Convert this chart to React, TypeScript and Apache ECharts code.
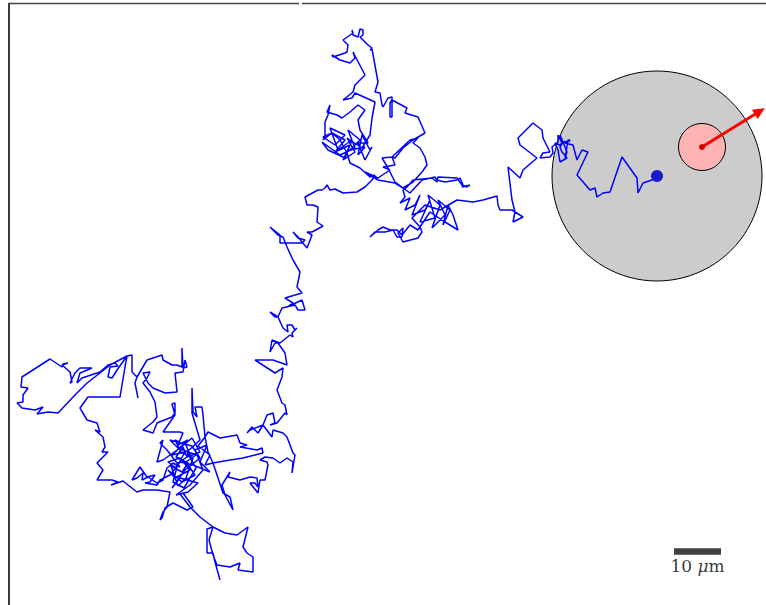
import React, { useEffect, useRef } from "react";
import * as echarts from "echarts";

// Trajectory (plot units = pixels of the original frame, y downward)
const segBottom: number[][] = [
  [220,580],[215,562],[213,553],[207,553],[207,529],[213,527],[225,533],[237,535],[248,527],[243,547],[247,553],[253,557],[253,572],[238,570],[240,563],[230,567],[217,565],[213,555],[209,540],[213,527],[200,517],[190,507],[180,494]
];
const segLowerLeft: number[][] = [
  [183,493],[193,507],[187,510],[173,503],[165,508],[162,518],[160,520],[163,512],[167,507],[170,492],[157,490],[143,490],[137,492],[128,485],[123,481],[111,485],[118,482],[112,480],[97,480],[103,470],[97,463],[100,460],[108,452],[102,452],[105,447],[103,437],[95,430],[100,432],[97,423],[87,420],[80,408],[88,397],[120,397],[125,367],[127,356]
];
const segLeftLoops: number[][] = [
  [110,365],[100,373],[87,383],[75,395],[58,413],[48,412],[37,414],[43,407],[35,410],[22,408],[17,403],[23,402],[23,395],[28,388],[21,387],[22,377],[50,359],[62,367],[63,364],[68,363],[62,365],[70,372],[72,382],[70,383],[75,373],[80,368],[92,368],[80,373],[77,383],[82,378],[100,372],[108,365],[115,363],[118,366],[110,367],[108,377],[112,378],[117,370],[127,356],[132,355],[132,372],[137,377],[135,383],[138,398],[135,383],[137,377],[147,360],[162,355],[163,360],[172,365],[177,365],[182,367],[182,348],[183,368],[187,367],[185,360],[183,372],[175,373],[177,392],[165,393],[153,388],[148,383],[143,373],[150,372],[147,378],[143,383],[150,392],[155,402],[157,417],[153,422],[143,430],[153,433],[157,423],[172,417],[175,413],[175,403],[172,404],[175,415],[163,432],[173,432],[180,432],[183,433]
];
const segCluster: number[][] = [
  [178,445],[188,440],[172,455],[185,452],[176,468],[168,462],[180,458],[190,470],[175,478],[168,470],[182,482],[195,475],[186,462],[196,455],[178,448],[170,440],[192,446],[200,458],[185,470],[172,488],[180,478],[198,483],[188,492],[176,495],[190,485],[203,470],[195,450],[207,445],[200,462],[210,472],[193,465],[180,462],[170,475],[160,480],[157,485],[145,483],[150,482],[155,475],[147,477],[140,467],[132,480],[137,478],[143,473],[142,480],[148,477],[157,483],[163,480],[167,468],[173,463],[180,467],[167,450],[160,443],[163,440],[157,462],[163,460],[180,448],[192,438],[200,452],[187,457],[183,447],[176,457],[188,463],[182,472],[171,466],[178,486],[186,478],[193,458],[181,452],[175,440],[186,445],[190,455],[178,463],[173,482],[184,488],[196,468],[187,452],[200,440],[192,413],[192,388],[193,412],[197,417],[195,407],[202,407],[203,415],[205,437],[198,446],[210,455],[205,465],[213,463],[208,452],[205,437]
];
const segRightLow: number[][] = [
  [208,432],[220,438],[237,435],[240,443],[247,445],[240,447],[257,450],[262,448],[263,453],[243,458],[230,460],[213,463],[223,493],[230,497],[233,510],[225,495],[222,485],[230,472],[228,477],[240,480],[250,477],[257,478],[258,487],[255,483],[250,483],[258,493],[260,480],[265,480],[268,465],[267,462],[260,460],[265,457],[273,458],[280,463],[287,458],[293,462],[292,473],[295,455],[293,453],[287,437],[283,433],[273,430],[272,437],[263,425],[258,433],[252,427],[247,433],[250,430],[263,425],[267,415],[273,413],[275,423],[270,425],[277,423],[285,413],[287,415],[285,405],[282,403]
];
const segColumn: number[][] = [
  [277,390],[282,377],[283,368],[275,373],[255,360],[273,360],[287,365],[285,353],[278,343],[275,343],[270,352],[272,340],[280,343],[290,335],[293,337],[292,333],[297,328],[295,330],[292,325],[287,325],[288,332],[283,328],[278,317],[275,317],[270,312],[278,317],[282,308],[295,305],[298,310],[305,310],[302,300],[287,307],[293,303],[285,298],[302,293],[297,287],[300,272],[293,260],[287,247],[283,237],[278,235],[270,227],[280,235],[280,243],[302,243],[305,240],[298,238],[293,232],[298,237],[302,242],[307,248],[312,235],[307,232],[312,232],[323,226],[317,222],[318,207],[313,205],[307,205],[305,197]
];
const segUpper: number[][] = [
  [318,190],[322,190],[325,188],[327,185],[330,190],[335,189],[343,193],[357,192],[365,187],[372,180],[375,175],[370,177],[360,168],[350,163],[347,153],[340,140],[332,133],[323,137],[335,145],[345,135],[330,128],[338,150],[352,140],[345,158],[328,150],[322,142],[340,155],[355,148],[348,130],[360,140],[350,150],[365,147],[358,155],[362,135],[370,150],[372,147],[365,160],[358,143],[368,143],[360,130],[358,120],[360,117],[365,110],[358,105],[350,112],[342,118],[337,115],[327,112],[330,105],[328,115],[325,122],[325,137],[323,140],[332,133],[345,140],[335,152],[350,145],[343,160],[355,152],[347,138],[362,148],[370,135],[372,118],[375,102],[355,93],[352,98],[343,100],[353,92],[355,85],[365,75],[353,52],[355,58],[350,63],[340,60],[332,55],[333,57],[345,53],[347,52],[348,45],[345,42],[343,40],[353,33],[352,30],[353,35],[358,37],[360,29],[363,30],[363,35],[360,37],[368,45],[372,48],[370,50],[372,49],[378,82],[375,92],[380,93],[382,105],[383,107],[388,98],[392,97],[392,117],[390,117],[390,103],[392,100],[407,108],[405,113],[418,117],[425,133],[413,140],[403,148],[395,158],[392,157],[410,140],[418,138],[413,143],[420,148],[425,157],[427,165],[422,172],[413,182]
];
const segRight: number[][] = [
  [403,188],[395,183],[378,180],[365,172],[378,178],[390,170],[383,167],[395,165],[392,157],[382,158],[388,168],[395,182],[410,193],[422,180],[435,177],[437,180],[445,182],[457,180],[460,178],[463,185],[462,187],[470,185],[467,187],[462,185],[457,178],[438,177],[437,182],[432,178],[413,180],[407,187],[403,190],[405,197],[400,203],[410,198],[405,210],[415,205],[420,195],[412,215],[425,210],[430,200],[420,222],[435,218],[428,195],[440,205],[432,228],[445,215],[438,200],[450,210],[443,225],[448,205],[453,215],[458,230],[445,222],[430,212],[418,230],[410,225],[402,235],[397,230],[390,230],[383,227],[378,230],[370,237],[375,232],[385,232],[393,230],[397,237],[402,237],[403,228],[398,233],[403,242],[418,238],[422,232],[420,227],[412,218],[425,205],[440,210],[457,200],[473,202],[483,200],[497,196],[498,205],[500,210],[512,210],[523,217],[513,222],[515,212],[512,200],[508,167],[520,178],[523,170],[537,158],[520,145],[518,138],[533,123],[542,130],[543,138],[550,152],[543,153],[540,158],[550,157],[553,153],[552,147],[558,142],[558,135],[562,143],[570,141],[563,142],[560,147],[562,152],[567,158],[560,162],[558,150]
];
const segCircle: number[][] = [
  [555,143],[560,145],[563,142],[560,135],[562,140],[565,147],[567,152],[565,158],[568,140],[570,140],[565,143],[573,145],[577,160],[582,150],[588,152],[577,175],[590,190],[595,188],[597,197],[603,193],[610,192],[622,157],[637,178],[638,193],[643,183],[652,180],[657,176]
];

// Cell (big circle), target (pink circle): [cx, cy, r]
const cellCircle = [[657, 176, 105]];
const targetCircle = [[702, 147, 23.5]];
// Direction arrow: [x0, y0, x1, y1]
const arrowData = [[702, 147, 765, 108]];
// Particle end position
const particle = [[657, 176]];
// Scale bar (10 µm)
const scaleBar = [[674, 551.5], [721, 551.5]];
const scaleLabelPos = [[697.5, 566]];
const scaleLabel = "10 ";

const X_MAX = 766;
const Y_MAX = 605;

export default function App() {
  const ref = useRef<HTMLDivElement>(null);
  useEffect(() => {
    if (!ref.current) return;
    const chart = echarts.init(ref.current, undefined, { renderer: "svg" });
    const path = [
      ...segBottom, ...segLowerLeft, ...segLeftLoops, ...segCluster,
      ...segRightLow, ...segColumn, ...segUpper, ...segRight, ...segCircle,
    ];
    const circleSeries = (data: number[][], fill: string, z: number) => ({
      type: "custom",
      z,
      silent: true,
      clip: false,
      encode: { x: 0, y: 1 },
      data,
      renderItem: (_p: any, api: any) => {
        const c = api.coord([api.value(0), api.value(1)]);
        const r = api.size([api.value(2), 0])[0];
        return {
          type: "circle",
          shape: { cx: c[0], cy: c[1], r },
          style: { fill, stroke: "#000", lineWidth: 1 },
        };
      },
    });
    chart.setOption({
      animation: false,
      backgroundColor: "#fff",
      grid: { left: 0, top: 0, right: 0, bottom: 0 },
      xAxis: { type: "value", min: 0, max: X_MAX, show: false },
      yAxis: { type: "value", min: 0, max: Y_MAX, inverse: true, show: false },
      graphic: [
        { type: "line", shape: { x1: 9, y1: 3, x2: 9, y2: 605 }, style: { stroke: "#3a3a3a", lineWidth: 2 }, z: 100 },
        { type: "line", shape: { x1: 8, y1: 3.5, x2: 299, y2: 3.5 }, style: { stroke: "#444", lineWidth: 1.5 }, z: 100 },
        { type: "line", shape: { x1: 302, y1: 3.5, x2: 766, y2: 3.5 }, style: { stroke: "#444", lineWidth: 1.5 }, z: 100 },
      ],
      series: [
        circleSeries(cellCircle, "#cccccc", 1),
        {
          type: "line",
          z: 2,
          data: path,
          symbol: "none",
          showSymbol: false,
          silent: true,
          lineStyle: { color: "#0000ff", width: 1.5 },
        },
        circleSeries(targetCircle, "#ffb3b3", 3),
        {
          type: "custom",
          z: 4,
          silent: true,
          clip: false,
          encode: { x: [0, 2], y: [1, 3] },
          data: arrowData,
          renderItem: (_p: any, api: any) => {
            const p0 = api.coord([api.value(0), api.value(1)]);
            const p1 = api.coord([api.value(2), api.value(3)]);
            const dx = p1[0] - p0[0];
            const dy = p1[1] - p0[1];
            const L = Math.sqrt(dx * dx + dy * dy);
            const ux = dx / L, uy = dy / L;
            const hl = 12, hw = 5.5;
            const bx = p1[0] - ux * hl, by = p1[1] - uy * hl;
            return {
              type: "group",
              children: [
                { type: "line", shape: { x1: p0[0], y1: p0[1], x2: bx + ux * 2, y2: by + uy * 2 }, style: { stroke: "#ff0000", lineWidth: 3 } },
                { type: "polygon", shape: { points: [[p1[0], p1[1]], [bx - uy * hw, by + ux * hw], [bx + uy * hw, by - ux * hw]] }, style: { fill: "#ff0000" } },
                { type: "circle", shape: { cx: p0[0], cy: p0[1], r: 3 }, style: { fill: "#cc0000" } },
              ],
            };
          },
        },
        {
          type: "scatter",
          z: 5,
          silent: true,
          data: particle,
          symbolSize: 12,
          itemStyle: { color: "#1a1acc", opacity: 1 },
        },
        {
          type: "line",
          z: 5,
          silent: true,
          data: scaleBar,
          symbol: "none",
          lineStyle: { color: "#404040", width: 6.5, cap: "butt" },
        },
        {
          type: "scatter",
          z: 6,
          silent: true,
          data: scaleLabelPos,
          symbolSize: 1,
          itemStyle: { color: "rgba(0,0,0,0)" },
          label: {
            show: true,
            position: "inside",
            color: "#000",
            formatter: "{a|" + scaleLabel + "}{b|μ}{a|m}",
            rich: {
              a: { fontFamily: "DejaVu Serif", fontSize: 17, color: "#000" },
              b: { fontFamily: "DejaVu Serif", fontSize: 17, fontStyle: "italic", color: "#000" },
            },
          },
        },
      ],
    });
    return () => chart.dispose();
  }, []);
  return (
    <div
      ref={ref}
      style={{ position: "fixed", left: 0, top: 0, width: 766, height: 605, background: "#fff" }}
    />
  );
}
